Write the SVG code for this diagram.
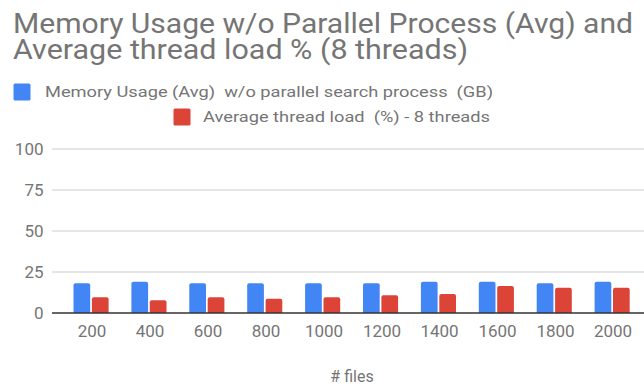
<svg xmlns="http://www.w3.org/2000/svg" width="644" height="388" viewBox="0 0 644 388">
<style>
text{font-family:Roboto,"Liberation Sans",Arial,sans-serif;fill:#757575}
.title{font-size:28px}
.leg{font-size:15px;white-space:pre}
.ytick{font-size:17px;text-anchor:end}
.xtick{font-size:17px;text-anchor:middle}
.grid{stroke:#cccccc;stroke-width:1}
.axis{stroke:#333333;stroke-width:1.3}
.blue{fill:#4285f4}
.red{fill:#db4437}
</style>
<rect width="644" height="388" fill="#ffffff"/>
<g id="title">
<text class="title" x="13" y="33" textLength="620" lengthAdjust="spacingAndGlyphs">Memory Usage w/o Parallel Process (Avg) and</text>
<text class="title" x="13" y="59" textLength="455" lengthAdjust="spacingAndGlyphs">Average thread load % (8 threads)</text>
</g>
<g id="legend">
<rect class="blue" x="13.5" y="83.5" width="17" height="17" rx="1.5"/>
<text class="leg" x="45" y="97" xml:space="preserve" textLength="448" lengthAdjust="spacingAndGlyphs">Memory Usage (Avg)  w/o parallel search process  (GB)</text>
<rect class="red" x="173.5" y="108.5" width="17" height="17" rx="1.5"/>
<text class="leg" x="203" y="122" xml:space="preserve" textLength="287" lengthAdjust="spacingAndGlyphs">Average thread load  (%) - 8 threads</text>
</g>
<g id="gridlines">
<line class="grid" x1="52" y1="149" x2="644" y2="149"/>
<line class="grid" x1="52" y1="190" x2="644" y2="190"/>
<line class="grid" x1="52" y1="231" x2="644" y2="231"/>
<line class="grid" x1="52" y1="272" x2="644" y2="272"/>
</g>
<g id="y-axis-labels">
<text class="ytick" x="43.5" y="155">100</text>
<text class="ytick" x="43.5" y="196">75</text>
<text class="ytick" x="43.5" y="237">50</text>
<text class="ytick" x="43.5" y="278">25</text>
<text class="ytick" x="43.5" y="319">0</text>
</g>
<g id="bars-memory">
<path class="blue" d="M73.5,313V285.3Q73.5,283.3 75.5,283.3H88.2Q90.2,283.3 90.2,285.3V313Z"/>
<path class="blue" d="M131.4,313V283.7Q131.4,281.7 133.4,281.7H146.1Q148.1,281.7 148.1,283.7V313Z"/>
<path class="blue" d="M189.3,313V285.3Q189.3,283.3 191.3,283.3H204Q206,283.3 206,285.3V313Z"/>
<path class="blue" d="M247.2,313V285.3Q247.2,283.3 249.2,283.3H261.9Q263.9,283.3 263.9,285.3V313Z"/>
<path class="blue" d="M305.1,313V285.3Q305.1,283.3 307.1,283.3H319.8Q321.8,283.3 321.8,285.3V313Z"/>
<path class="blue" d="M363,313V285.3Q363,283.3 365,283.3H377.7Q379.7,283.3 379.7,285.3V313Z"/>
<path class="blue" d="M420.9,313V283.7Q420.9,281.7 422.9,281.7H435.6Q437.6,281.7 437.6,283.7V313Z"/>
<path class="blue" d="M478.8,313V283.7Q478.8,281.7 480.8,281.7H493.5Q495.5,281.7 495.5,283.7V313Z"/>
<path class="blue" d="M536.7,313V285.3Q536.7,283.3 538.7,283.3H551.4Q553.4,283.3 553.4,285.3V313Z"/>
<path class="blue" d="M594.6,313V283.7Q594.6,281.7 596.6,281.7H609.3Q611.3,281.7 611.3,283.7V313Z"/>
</g>
<g id="bars-thread">
<path class="red" d="M91.9,313V299.3Q91.9,297.3 93.9,297.3H106.6Q108.6,297.3 108.6,299.3V313Z"/>
<path class="red" d="M149.8,313V302.3Q149.8,300.3 151.8,300.3H164.5Q166.5,300.3 166.5,302.3V313Z"/>
<path class="red" d="M207.7,313V299.3Q207.7,297.3 209.7,297.3H222.4Q224.4,297.3 224.4,299.3V313Z"/>
<path class="red" d="M265.6,313V300.7Q265.6,298.7 267.6,298.7H280.3Q282.3,298.7 282.3,300.7V313Z"/>
<path class="red" d="M323.5,313V299.3Q323.5,297.3 325.5,297.3H338.2Q340.2,297.3 340.2,299.3V313Z"/>
<path class="red" d="M381.4,313V297.3Q381.4,295.3 383.4,295.3H396.1Q398.1,295.3 398.1,297.3V313Z"/>
<path class="red" d="M439.3,313V296Q439.3,294 441.3,294H454Q456,294 456,296V313Z"/>
<path class="red" d="M497.2,313V288Q497.2,286 499.2,286H511.9Q513.9,286 513.9,288V313Z"/>
<path class="red" d="M555.1,313V289.7Q555.1,287.7 557.1,287.7H569.8Q571.8,287.7 571.8,289.7V313Z"/>
<path class="red" d="M613,313V289.7Q613,287.7 615,287.7H627.7Q629.7,287.7 629.7,289.7V313Z"/>
</g>
<g id="x-axis">
<line class="axis" x1="52" y1="313" x2="644" y2="313"/>
</g>
<g id="x-axis-labels">
<text class="xtick" x="92" y="337">200</text>
<text class="xtick" x="150" y="337">400</text>
<text class="xtick" x="208" y="337">600</text>
<text class="xtick" x="266" y="337">800</text>
<text class="xtick" x="324" y="337">1000</text>
<text class="xtick" x="382" y="337">1200</text>
<text class="xtick" x="439.5" y="337">1400</text>
<text class="xtick" x="497.5" y="337">1600</text>
<text class="xtick" x="555.5" y="337">1800</text>
<text class="xtick" x="613" y="337">2000</text>
</g>
<g id="x-axis-title">
<text x="352" y="382" style="font-size:16px;text-anchor:middle"># files</text>
</g>
</svg>
